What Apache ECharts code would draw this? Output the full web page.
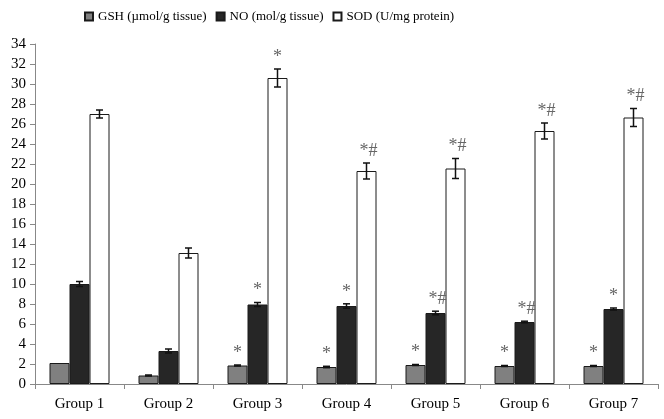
<!DOCTYPE html>
<html><head><meta charset="utf-8">
<script src="https://cdn.jsdelivr.net/npm/echarts@6/dist/echarts.min.js"></script>
<style>html,body{margin:0;padding:0;background:#fff}#c{width:664px;height:419px}</style>
</head><body><div id="c"></div>
<script>
const categories = ['Group 1','Group 2','Group 3','Group 4','Group 5','Group 6','Group 7'];
const seriesNames = ['GSH (\u00b5mol/g tissue)','NO (mol/g tissue)','SOD (U/mg protein)'];
const gshValues = [2.1, 0.85, 1.85, 1.7, 1.9, 1.8, 1.8];
const gshErrors = [0, 0.05, 0.05, 0.07, 0.05, 0.05, 0.05];
const gshMarks  = ['', '', '*', '*', '*', '*', '*'];
const noValues  = [10.0, 3.3, 7.95, 7.8, 7.1, 6.2, 7.5];
const noErrors  = [0.25, 0.2, 0.2, 0.22, 0.18, 0.08, 0.1];
const noMarks   = ['', '', '*', '*', '*#', '*#', '*'];
const sodValues = [27.0, 13.1, 30.6, 21.3, 21.55, 25.3, 26.65];
const sodErrors = [0.4, 0.5, 0.9, 0.8, 1.0, 0.8, 0.9];
const sodMarks  = ['', '', '*', '*#', '*#', '*#', '*#'];

const FONT = '"Liberation Serif", "Times New Roman", serif';
const BAR_W = 20;
const colors = ['#808080', '#262626', '#ffffff'];
const groups = [
  {vals: gshValues, errs: gshErrors, marks: gshMarks, off: -BAR_W},
  {vals: noValues, errs: noErrors, marks: noMarks, off: 0},
  {vals: sodValues, errs: sodErrors, marks: sodMarks, off: BAR_W}
];

const chart = echarts.init(document.getElementById('c'), null, {renderer: 'canvas'});
const series = [];
groups.forEach((g, k) => {
  series.push({
    name: seriesNames[k], type: 'bar', barWidth: BAR_W, barGap: '0%',
    data: g.vals,
    itemStyle: {color: colors[k], borderColor: '#1a1a1a', borderWidth: 1},
    emphasis: {disabled: true}, z: 2
  });
});
groups.forEach((g, k) => {
  series.push({
    type: 'custom', z: 5, silent: true,
    data: g.vals.map((v, i) => [i, v, g.errs[i], g.marks[i]]),
    encode: {x: 0, y: 1},
    renderItem: function (params, api) {
      const i = api.value(0), v = api.value(1), e = api.value(2);
      const mark = g.marks[i];
      const c = api.coord([i, v]);
      const x = c[0] + g.off;
      const top = api.coord([i, v + e])[1];
      const bot = api.coord([i, v - e])[1];
      const children = [];
      if (e > 0) {
        const st = {stroke: '#111', lineWidth: 1.5};
        children.push({type: 'line', shape: {x1: x, y1: top, x2: x, y2: bot}, style: st});
        children.push({type: 'line', shape: {x1: x - 3.5, y1: top, x2: x + 3.5, y2: top}, style: st});
        children.push({type: 'line', shape: {x1: x - 3.5, y1: bot, x2: x + 3.5, y2: bot}, style: st});
      }
      if (mark) {
        children.push({type: 'text', style: {
          text: mark, x: x + (mark.length > 1 ? 2 : 0), y: top - 3, align: 'center', verticalAlign: 'bottom',
          fill: '#666', font: '18px ' + FONT
        }});
      }
      return {type: 'group', children: children};
    }
  });
});

chart.setOption({
  animation: false,
  backgroundColor: '#fff',
  legend: {
    data: seriesNames, left: 79, top: 5, icon: 'rect', itemWidth: 8, itemHeight: 8,
    itemGap: 9, textStyle: {fontFamily: FONT, fontSize: 13, color: '#000'},
    selectedMode: false
  },
  grid: {left: 35, right: 6, top: 44, bottom: 35, containLabel: false},
  xAxis: {
    type: 'category', data: categories,
    axisLine: {lineStyle: {color: '#888', width: 1}},
    axisTick: {show: true, length: 5, lineStyle: {color: '#888'}},
    axisLabel: {fontFamily: FONT, fontSize: 15, color: '#000', margin: 13}
  },
  yAxis: {
    type: 'value', min: 0, max: 34, interval: 2,
    splitLine: {show: false},
    axisLine: {show: true, lineStyle: {color: '#888', width: 1}},
    axisTick: {show: true, length: 5, lineStyle: {color: '#888'}},
    axisLabel: {fontFamily: FONT, fontSize: 15, color: '#000', margin: 9}
  },
  series: series
});
</script></body></html>
